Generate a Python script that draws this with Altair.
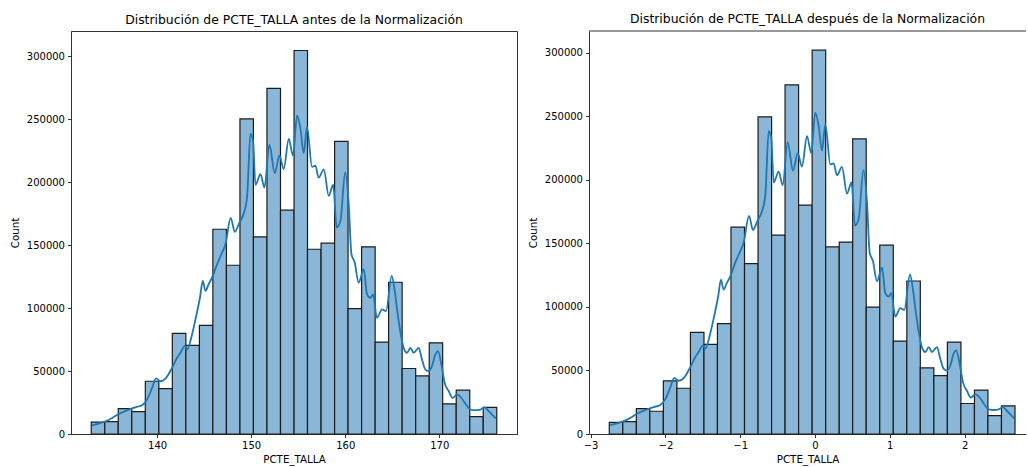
import altair as alt
import pandas as pd

# ---------------- data ----------------
edges_before = [133.00, 134.44, 135.87, 137.31, 138.75, 140.19, 141.62, 143.06, 144.50, 145.93,
                147.37, 148.81, 150.24, 151.68, 153.12, 154.56, 155.99, 157.43, 158.87, 160.30,
                161.74, 163.18, 164.61, 166.05, 167.49, 168.93, 170.36, 171.80, 173.24, 174.67, 176.11]
counts_before = [9500, 9800, 20200, 17800, 41900, 36100, 79900, 70300, 86300, 162600,
                 134000, 250200, 156500, 274500, 177700, 304500, 146700, 151500, 232400, 99500,
                 148600, 73000, 120500, 52000, 46200, 72400, 23900, 34800, 13800, 21200]

edges_after = [-2.750, -2.569, -2.388, -2.208, -2.027, -1.846, -1.665, -1.484, -1.304, -1.123,
               -0.942, -0.761, -0.580, -0.400, -0.219, -0.038, 0.143, 0.324, 0.504, 0.685,
               0.866, 1.047, 1.228, 1.408, 1.589, 1.770, 1.951, 2.132, 2.312, 2.493, 2.674]
counts_after = [9200, 9800, 20000, 17900, 41800, 36000, 80000, 70500, 86800, 162800,
                134100, 249500, 156500, 274700, 180100, 302000, 147200, 151000, 232200, 99900,
                148600, 73100, 120400, 52000, 46000, 72300, 24000, 34500, 14500, 22100]

kde_x_before = [133.09, 133.80, 134.52, 135.22, 135.93, 136.99, 137.70, 138.41, 138.94, 139.47,
                139.89, 140.36, 140.96, 141.59, 142.13, 142.49, 142.94, 143.19, 143.72, 144.08,
                144.57, 144.86, 145.14, 145.49, 145.84, 146.38, 146.84, 147.27, 147.83, 148.26,
                148.74, 149.16, 149.56, 149.93, 150.20, 150.46, 150.99, 151.41, 151.94, 152.51,
                153.01, 153.46, 154.00, 154.45, 154.88, 155.24, 155.59, 155.94, 156.47, 156.83,
                157.18, 157.72, 158.25, 158.72, 159.10, 159.49, 160.00, 160.37, 160.66, 161.01,
                161.43, 161.97, 162.32, 162.68, 162.95, 163.38, 163.91, 164.34, 164.94, 165.26,
                165.58, 165.90, 166.22, 166.57, 166.93, 167.28, 167.81, 168.16, 168.52, 168.87,
                169.22, 169.59, 169.86, 170.22, 170.57, 171.00, 171.42, 171.88, 172.35, 172.84,
                173.30, 173.84, 174.37, 174.82, 175.25, 175.78, 176.03]
kde_x_after = [-2.737, -2.647, -2.557, -2.469, -2.380, -2.246, -2.156, -2.068, -2.001, -1.934,
               -1.881, -1.822, -1.747, -1.667, -1.600, -1.555, -1.497, -1.467, -1.400, -1.354,
               -1.293, -1.257, -1.221, -1.176, -1.132, -1.066, -1.007, -0.953, -0.882, -0.829,
               -0.769, -0.715, -0.664, -0.619, -0.584, -0.552, -0.485, -0.432, -0.365, -0.294,
               -0.231, -0.174, -0.107, -0.049, 0.004, 0.049, 0.094, 0.138, 0.205, 0.250,
               0.294, 0.361, 0.428, 0.488, 0.535, 0.584, 0.648, 0.695, 0.731, 0.775,
               0.829, 0.896, 0.940, 0.985, 1.020, 1.074, 1.140, 1.194, 1.270, 1.310,
               1.350, 1.390, 1.430, 1.475, 1.520, 1.564, 1.631, 1.675, 1.721, 1.765,
               1.809, 1.854, 1.889, 1.934, 1.979, 2.032, 2.086, 2.143, 2.202, 2.263,
               2.322, 2.389, 2.456, 2.513, 2.567, 2.634, 2.664]
kde_counts = [6900, 8300, 10100, 12700, 15900, 19400, 21200, 22800, 27400, 36600,
              44100, 41900, 44600, 52500, 60500, 64500, 69800, 67200, 79100, 91000,
              108800, 121500, 113600, 119100, 124100, 134800, 142800, 150700, 171600, 160500,
              167700, 174000, 187800, 238200, 232900, 197900, 206400, 195800, 229700, 207100,
              221000, 210400, 234300, 221000, 252800, 242500, 223000, 243700, 212200, 213000,
              203500, 210200, 189100, 197900, 163900, 169300, 207700, 182800, 142800, 136100,
              120200, 130800, 110900, 108200, 110900, 92300, 99000, 97600, 125500, 113600,
              95200, 79300, 68200, 64500, 68400, 64500, 68400, 59200, 51200, 49900,
              53900, 63200, 65800, 55200, 40600, 34000, 28600, 31400, 28600, 23400,
              19400, 18900, 19400, 21200, 18100, 14100, 12300]

xticks_before = [140, 150, 160, 170]
xticks_after = [-3, -2, -1, 0, 1, 2]
yticks = [0, 50000, 100000, 150000, 200000, 250000, 300000]

title_before = "Distribución de PCTE_TALLA antes de la Normalización"
title_after = "Distribución de PCTE_TALLA después de la Normalización"

# ---------------- styling ----------------
FONT = "DejaVu Sans"
EDGE = "#333333"
BAR_FILL = "#8ab7d8"
BAR_EDGE = "#1c1c1c"
LINE = "#1f77b4"
PLOT_H = 403


def panel(edges, counts, kx, ky, xdom, ydom, xticks, width, title, full_box):
    bars_df = pd.DataFrame({"x0": edges[:-1], "x1": edges[1:], "count": counts,
                            "base": [0] * len(counts)})
    kde_df = pd.DataFrame({"x": kx, "y": ky})
    xs = alt.Scale(domain=xdom, nice=False, zero=False)
    ys = alt.Scale(domain=ydom, nice=False)
    xaxis = alt.Axis(values=xticks, format="d", title="PCTE_TALLA")
    yaxis = alt.Axis(values=yticks, format="d", title="Count")
    bars = alt.Chart(bars_df).mark_rect(
        fill=BAR_FILL, stroke=BAR_EDGE, strokeWidth=1.2
    ).encode(
        x=alt.X("x0:Q", scale=xs, axis=xaxis),
        x2="x1:Q",
        y=alt.Y("count:Q", scale=ys, axis=yaxis),
        y2="base:Q",
    )
    line = alt.Chart(kde_df).mark_line(
        color=LINE, strokeWidth=1.8, interpolate="monotone"
    ).encode(
        x=alt.X("x:Q", scale=xs, axis=xaxis),
        y=alt.Y("y:Q", scale=ys, axis=yaxis),
    )
    layers = [bars, line]
    if not full_box:
        top = alt.Chart(pd.DataFrame({"a": [0]})).mark_rule(
            color=EDGE, strokeWidth=1
        ).encode(y=alt.value(0), x=alt.value(0), x2=alt.value(width))
        layers.append(top)
    ch = alt.layer(*layers).properties(
        width=width, height=PLOT_H,
        title=alt.TitleParams(text=title, font=FONT, fontSize=12.4, fontWeight="normal",
                              color="#000000", offset=5, anchor="middle"),
    )
    if not full_box:
        ch = ch.properties(view=alt.ViewBackground(stroke="transparent"))
    return ch


left = panel(edges_before, counts_before, kde_x_before, kde_counts,
             [130.85, 178.26], [0, 320000], xticks_before, 446, title_before, True)
right = panel(edges_after, counts_after, kde_x_after, kde_counts,
              [-3.021, 2.821], [0, 317100], xticks_after, 437, title_after, False)

chart = alt.hconcat(left, right, spacing=9).properties(
    padding={"left": 9, "top": 12, "right": 0, "bottom": 0},
    background="white",
).configure_view(
    stroke=EDGE, strokeWidth=1
).configure_axis(
    grid=False,
    labelFont=FONT, labelFontSize=10, labelColor="#000000", labelPadding=3,
    titleFont=FONT, titleFontSize=10.3, titleFontWeight="normal", titleColor="#000000",
    domainColor=EDGE, domainWidth=1, tickColor=EDGE, tickWidth=1, tickSize=3.5,
).configure_axisX(
    titlePadding=4
).configure_axisY(
    titlePadding=6
)

chart.save("out.html", embed_options={"renderer": "svg", "actions": False})
